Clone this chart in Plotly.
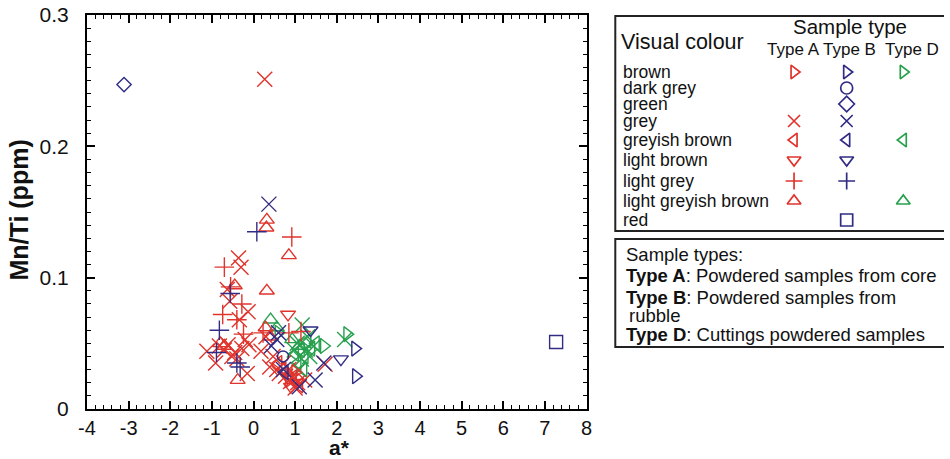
import plotly.graph_objects as go

# ---------------- data (a*, Mn/Ti) ----------------
# Type A (red)
A_grey_x = [0.27, -0.36, -0.30, -0.63, -0.57, -0.13, -0.34, -1.12, -0.91, -0.61, -0.45, -0.28, -0.11, -0.20, -0.15,
            -0.82, -0.70, 0.18, 0.39, 0.47, 0.56, 0.72, 0.77, 0.89, 1.06, 1.23, 0.62, 0.85, 1.00, 1.72, -0.52, -0.40,
            0.30, 0.95]
A_grey_y = [0.251, 0.115, 0.108, 0.091, 0.082, 0.074, 0.068, 0.044, 0.035, 0.049, 0.043, 0.046, 0.049, 0.053, 0.027,
            0.048, 0.045, 0.044, 0.032, 0.040, 0.030, 0.035, 0.025, 0.021, 0.020, 0.022, 0.027, 0.030, 0.016, 0.034,
            0.040, 0.038, 0.055, 0.025]
A_lightgrey_x = [0.92, -0.70, -0.74, -0.28, -0.24, 0.23, 0.85, 1.14, -0.40, -0.55]
A_lightgrey_y = [0.131, 0.108, 0.072, 0.080, 0.057, 0.058, 0.058, 0.059, 0.068, 0.093]
A_lgb_x = [0.32, 0.31, 0.85, 0.32, -0.45, 0.29, -0.80, -0.38, -0.70, 0.40]
A_lgb_y = [0.144, 0.138, 0.117, 0.090, 0.094, 0.062, 0.050, 0.022, 0.048, 0.055]
A_lightbrown_x = [0.83, 0.90, 1.05, 0.80]
A_lightbrown_y = [0.072, 0.017, 0.020, 0.025]
A_greyishbrown_x = [0.70, 0.95, 1.10, 0.60]
A_greyishbrown_y = [0.030, 0.024, 0.018, 0.035]
A_brown_x = [0.85, 1.00]
A_brown_y = [0.022, 0.028]

# Type B (blue)
B_brown_x = [2.44, 2.46]
B_brown_y = [0.046, 0.025]
B_darkgrey_x = [0.71]
B_darkgrey_y = [0.040]
B_green_x = [-3.11]
B_green_y = [0.247]
B_grey_x = [0.37, 0.43, 0.56, 0.72, 1.10, 1.48, 1.69, 0.60]
B_grey_y = [0.156, 0.048, 0.053, 0.030, 0.017, 0.022, 0.035, 0.058]
B_greyishbrown_x = [0.75]
B_greyishbrown_y = [0.028]
B_lightbrown_x = [1.37, 2.10]
B_lightbrown_y = [0.060, 0.038]
B_lightgrey_x = [0.08, -0.56, -0.82, -0.89, -0.40, -0.32]
B_lightgrey_y = [0.135, 0.088, 0.060, 0.043, 0.035, 0.032]
B_red_x = [7.27]
B_red_y = [0.051]

# Type D (green)
D_brown_x = [2.25, 1.69, 0.60]
D_brown_y = [0.057, 0.048, 0.058]
D_greyishbrown_x = [1.14, 1.23, 1.39, 1.06, 1.30, 1.50, 1.00, 1.20]
D_greyishbrown_y = [0.045, 0.040, 0.046, 0.035, 0.052, 0.050, 0.042, 0.030]
D_lgb_x = [0.41, 0.56, 0.93, 1.10]
D_lgb_y = [0.068, 0.062, 0.053, 0.048]
D_cross_x = [1.17, 2.19, 1.05, 1.25, 1.35, 1.45, 1.15, 0.98, 1.30, 1.10]
D_cross_y = [0.064, 0.053, 0.050, 0.045, 0.040, 0.048, 0.038, 0.045, 0.055, 0.030]

# legend table content
legend_colours = ["brown", "dark grey", "green", "grey", "greyish brown", "light brown",
                  "light grey", "light greyish brown", "red"]
type_headers = ["Type A", "Type B", "Type D"]
legend_A = ["triangle-right-open", None, None, "x-thin-open", "triangle-left-open", "triangle-down-open",
            "cross-thin-open", "triangle-up-open", None]
legend_B = ["triangle-right-open", "circle-open", "diamond-open", "x-thin-open", "triangle-left-open",
            "triangle-down-open", "cross-thin-open", None, "square-open"]
legend_D = ["triangle-right-open", None, None, None, "triangle-left-open", None, None, "triangle-up-open", None]

x_ticks = [-4, -3, -2, -1, 0, 1, 2, 3, 4, 5, 6, 7, 8]
x_ticklabels = ["-4", "-3", "-2", "-1", "0", "1", "2", "3", "4", "5", "6", "7", "8"]
y_ticks = [0, 0.1, 0.2, 0.3]
y_ticklabels = ["0", "0.1", "0.2", "0.3"]

# ---------------- styling ----------------
RED = "#e0342c"
BLUE = "#302c84"
GREEN = "#27a04e"
FONT = "Arial, Liberation Sans, sans-serif"

W, H = 950, 459
L, R, T, B = 87, 0, 15, 50
PW = W - L - R
PH = H - T - B
main_right = 590

fig = go.Figure()

def add(xs, ys, sym, col, size=13):
    fig.add_trace(go.Scatter(x=xs, y=ys, mode="markers", showlegend=False, hoverinfo="skip",
                             marker=dict(symbol=sym, size=size, color=col,
                                         line=dict(color=col, width=1.4))))

add(D_cross_x, D_cross_y, "x-thin-open", GREEN, 15)
add(D_greyishbrown_x, D_greyishbrown_y, "triangle-left-open", GREEN, 13)
add(D_brown_x, D_brown_y, "triangle-right-open", GREEN, 13)
add(D_lgb_x, D_lgb_y, "triangle-up-open", GREEN, 13)

add(A_grey_x, A_grey_y, "x-thin-open", RED, 15)
add(A_lightgrey_x, A_lightgrey_y, "cross-thin-open", RED, 14)
add(A_lgb_x, A_lgb_y, "triangle-up-open", RED, 13)
add(A_lightbrown_x, A_lightbrown_y, "triangle-down-open", RED, 13)
add(A_greyishbrown_x, A_greyishbrown_y, "triangle-left-open", RED, 13)
add(A_brown_x, A_brown_y, "triangle-right-open", RED, 13)

add(B_brown_x, B_brown_y, "triangle-right-open", BLUE, 13)
add(B_darkgrey_x, B_darkgrey_y, "circle-open", BLUE, 11)
add(B_green_x, B_green_y, "diamond-open", BLUE, 11)
add(B_grey_x, B_grey_y, "x-thin-open", BLUE, 15)
add(B_greyishbrown_x, B_greyishbrown_y, "triangle-left-open", BLUE, 13)
add(B_lightbrown_x, B_lightbrown_y, "triangle-down-open", BLUE, 13)
add(B_lightgrey_x, B_lightgrey_y, "cross-thin-open", BLUE, 14)
add(B_red_x, B_red_y, "square-open", BLUE, 13)

# ---------------- legend table on a hidden pixel-unit axis ----------------
leg_x0 = 605
row_y = [72, 88, 104, 121, 140, 160, 181, 201, 220]
col_x = [799, 852, 909]
for syms, cx, col in [(legend_A, col_x[0], RED), (legend_B, col_x[1], BLUE), (legend_D, col_x[2], GREEN)]:
    xs, ys, ss = [], [], []
    for s, ry in zip(syms, row_y):
        if s:
            xs.append(cx); ys.append(ry); ss.append(s)
    fig.add_trace(go.Scatter(x=xs, y=ys, mode="markers", xaxis="x2", yaxis="y2", showlegend=False,
                             hoverinfo="skip",
                             marker=dict(symbol=ss, size=12, color=col, line=dict(color=col, width=1.7))))

annotations = []
def txt(x, y, s, size=15, xanchor="left", ref="2"):
    annotations.append(dict(x=x, y=y, xref="x" + ref, yref="y" + ref, text=s,
                            showarrow=False, xanchor=xanchor, yanchor="middle",
                            font=dict(family=FONT, size=size, color="#111")))

txt(623, 42, "Visual colour", 21.5)
txt(855, 26, "Sample type", 20.5, "center")
for hx, h in zip([798, 855, 918], type_headers):
    txt(hx, 49, h, 17, "center")
for ry, c in zip(row_y, legend_colours):
    txt(625, ry, c, 17.5)

txt(628, 254, "Sample types:", 18.5)
txt(628, 275, "<b>Type A</b>: Powdered samples from core", 18.5)
txt(628, 297, "<b>Type B</b>: Powdered samples from", 18.5)
txt(631, 315, "rubble", 18.5)
txt(628, 334, "<b>Type D</b>: Cuttings powdered samples", 18.5)

# axis titles (paper coordinates)
annotations.append(dict(x=(341 - L) / PW, y=-(447 - (T + PH)) / PH, xref="paper", yref="paper",
                        text="<b>a*</b>", showarrow=False, font=dict(family=FONT, size=21, color="#111"),
                        xanchor="center", yanchor="middle"))
annotations.append(dict(x=(19 - L) / PW, y=(409 - 210) / PH, xref="paper", yref="paper", text="<b>Mn/Ti (ppm)</b>",
                        textangle=-90, showarrow=False, font=dict(family=FONT, size=25, color="#111"),
                        xanchor="center", yanchor="middle"))

shapes = [
    dict(type="rect", xref="x2", yref="y2", x0=619, x1=960, y0=16, y1=231, line=dict(color="#222", width=2)),
    dict(type="rect", xref="x2", yref="y2", x0=619, x1=960, y0=239, y1=347, line=dict(color="#222", width=2)),
]

axis_common = dict(showgrid=False, zeroline=False, showline=True, linecolor="black", linewidth=2,
                   mirror="allticks", ticks="inside", ticklen=8, tickwidth=1.5, tickcolor="black")

fig.update_layout(
    width=W, height=H, margin=dict(l=L, r=R, t=T, b=B),
    paper_bgcolor="white", plot_bgcolor="white",
    xaxis=dict(domain=[0, (main_right - L) / PW], range=[-4, 8], tickvals=x_ticks, ticktext=x_ticklabels,
               minor=dict(dtick=0.2, ticks="inside", ticklen=4, tickwidth=1.2, tickcolor="black"),
               tickfont=dict(family=FONT, size=20, color="#111"),
               ticklabelstandoff=0, **axis_common),
    yaxis=dict(range=[0, 0.3], tickvals=y_ticks, ticktext=y_ticklabels,
               minor=dict(dtick=0.01, ticks="inside", ticklen=4, tickwidth=1.2, tickcolor="black"),
               tickfont=dict(family=FONT, size=21, color="#111"),
               ticklabelstandoff=12, **axis_common),
    xaxis2=dict(domain=[(leg_x0 - L) / PW, 1], range=[leg_x0, W], visible=False, anchor="y2",
                fixedrange=True),
    yaxis2=dict(domain=[0, 1], range=[T + PH, T], visible=False, anchor="x2", fixedrange=True),
    annotations=annotations, shapes=shapes, showlegend=False,
    font=dict(family=FONT),
)

fig.write_html("out.html")
